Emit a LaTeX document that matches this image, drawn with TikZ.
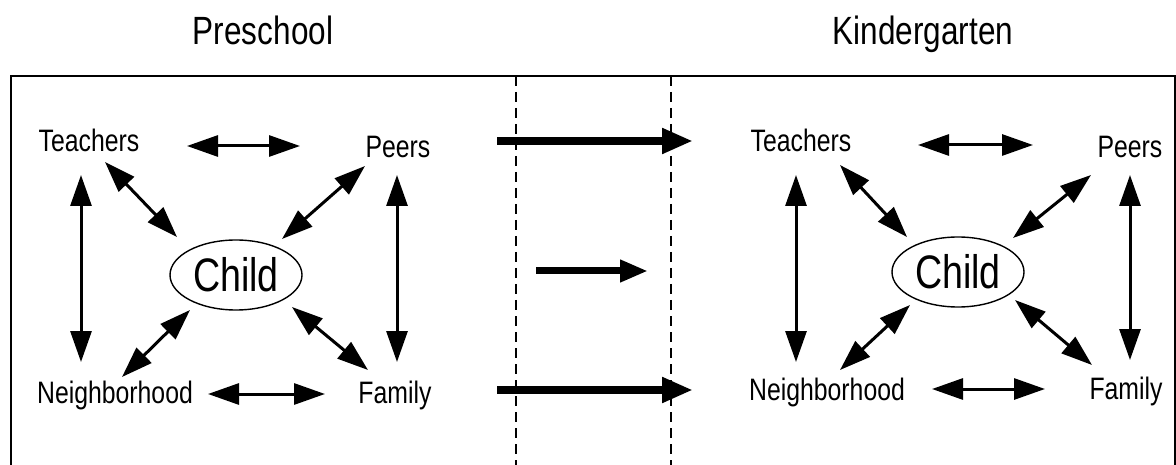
\documentclass[tikz,border=0pt]{standalone}
\usepackage{fontspec}
\setmainfont[FakeStretch=0.8]{Liberation Sans}
\usetikzlibrary{arrows.meta,shapes.geometric}
\tikzset{
  lbl/.style={inner sep=0pt, font=\fontsize{31}{31}\selectfont, text height=22pt, text depth=0pt},
  ttl/.style={inner sep=0pt, font=\fontsize{39.4}{40}\selectfont, text height=28pt, text depth=0pt},
  childnode/.style={ellipse, draw, line width=1.4pt, minimum width=132pt, minimum height=70pt, inner sep=0pt,
     font=\fontsize{47}{47}\selectfont, text height=33.5pt, text depth=0pt},
  dbl/.style={line width=3pt, {Triangle[length=31pt,width=21pt]}-{Triangle[length=31pt,width=21pt]}},
  bigarrow/.style={line width=8pt, -{Triangle[length=31pt,width=24pt]}},
  midarrow/.style={line width=7pt, -{Triangle[length=28pt,width=21pt]}},
  frameline/.style={line width=2pt},
  divider/.style={line width=1.3pt, dash pattern=on 10pt off 6pt}
}
\begin{document}
\begin{tikzpicture}[x=1pt,y=-1pt]
\useasboundingbox (0,0) rectangle (1176,465);
\clip (0,0) rectangle (1176,465);
\fill[white] (0,0) rectangle (1176,465);
% titles
\node[ttl] (preschool) at (263,30.5) {Preschool};
\node[ttl] (kinder) at (923,30.5) {Kindergarten};
% frame
\coordinate (fbl) at (11,520);
\coordinate (ftl) at (11,76);
\coordinate (ftr) at (1175,76);
\coordinate (fbr) at (1175,520);
\draw[frameline] (fbl) -- (ftl) -- (ftr) -- (fbr);
% dividers
\coordinate (d1t) at (516,76);
\coordinate (d1b) at (516,470);
\coordinate (d2t) at (671,76);
\coordinate (d2b) at (671,470);
\draw[divider] (d1t) -- (d1b);
\draw[divider] (d2t) -- (d2b);
% left group
\node[lbl] (tL) at (89,141) {Teachers};
\node[lbl] (pL) at (398,147) {Peers};
\node[lbl] (nL) at (115,392) {Neighborhood};
\node[lbl] (fL) at (395,392) {Family};
\node[childnode] (cL) at (236,275) {Child};
\draw[dbl] ([shift={(98,5)}]tL.center) -- ([shift={(-98,-1)}]pL.center);
\draw[dbl] ([shift={(-8,34)}]tL.center) -- ([shift={(-34,-30)}]nL.center);
\draw[dbl] ([shift={(-1,28)}]pL.center) -- ([shift={(2,-30)}]fL.center);
\draw[dbl] ([shift={(16,21)}]tL.center) -- ([shift={(-59,-38)}]cL.center);
\draw[dbl] ([shift={(-33,19)}]pL.center) -- ([shift={(46,-36)}]cL.center);
\draw[dbl] ([shift={(7,-15)}]nL.center) -- ([shift={(-46,35)}]cL.center);
\draw[dbl] ([shift={(56,32)}]cL.center) -- ([shift={(-27,-22)}]fL.center);
\draw[dbl] ([shift={(93,2)}]nL.center) -- ([shift={(-70,2)}]fL.center);
% right group
\node[lbl] (tR) at (801,141) {Teachers};
\node[lbl] (pR) at (1130,147) {Peers};
\node[lbl] (nR) at (827,389) {Neighborhood};
\node[lbl] (fR) at (1126,388) {Family};
\node[childnode] (cR) at (958,272) {Child};
\draw[dbl] ([shift={(117,4)}]tR.center) -- ([shift={(-97,-2)}]pR.center);
\draw[dbl] ([shift={(-5,34)}]tR.center) -- ([shift={(-31,-27)}]nR.center);
\draw[dbl] ([shift={(0,28)}]pR.center) -- ([shift={(4,-28)}]fR.center);
\draw[dbl] ([shift={(39,24)}]tR.center) -- ([shift={(-51,-35)}]cR.center);
\draw[dbl] ([shift={(-39,28)}]pR.center) -- ([shift={(55,-34)}]cR.center);
\draw[dbl] ([shift={(13,-19)}]nR.center) -- ([shift={(-48,33)}]cR.center);
\draw[dbl] ([shift={(57,28)}]cR.center) -- ([shift={(-34,-23)}]fR.center);
\draw[dbl] ([shift={(105,0)}]nR.center) -- ([shift={(-81,1)}]fR.center);
% transition arrows
\draw[bigarrow] ([shift={(99,-6)}]pL.center) -- ([shift={(-108,0)}]tR.center);
\draw[midarrow] ([shift={(300,-4)}]cL.center) -- ([shift={(-310,-1)}]cR.center);
\draw[bigarrow] ([shift={(102,-2)}]fL.center) -- ([shift={(-134,1)}]nR.center);
\end{tikzpicture}
\end{document}
